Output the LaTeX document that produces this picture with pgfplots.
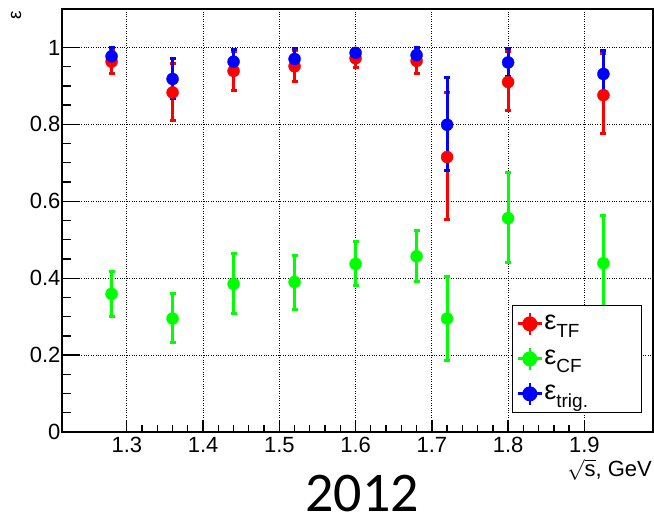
\documentclass[border=0pt]{standalone}
\usepackage{fontspec}
\setmainfont{Liberation Sans}
\newfontfamily\titlefont{Carlito}
\usepackage{pgfplots}
\usepackage{pgfplotstable}
\pgfplotsset{compat=1.18}

\definecolor{rred}{RGB}{255,0,0}
\definecolor{rgreen}{RGB}{0,255,0}
\definecolor{rblue}{RGB}{0,0,255}

% x  eff  err+  err-
\pgfplotstableread{
x     y      ep     em
1.28  0.963  0.030  0.031
1.36  0.883  0.075  0.072
1.44  0.939  0.050  0.051
1.52  0.951  0.040  0.040
1.60  0.972  0.025  0.024
1.68  0.965  0.027  0.032
1.72  0.715  0.169  0.163
1.80  0.910  0.079  0.074
1.925 0.876  0.108  0.101
}\effTF
\pgfplotstableread{
x     y      ep     em
1.28  0.359  0.058  0.058
1.36  0.295  0.065  0.063
1.44  0.385  0.079  0.076
1.52  0.390  0.069  0.071
1.60  0.437  0.058  0.057
1.68  0.457  0.066  0.066
1.72  0.295  0.110  0.108
1.80  0.556  0.118  0.114
1.925 0.439  0.124  0.125
}\effCF
\pgfplotstableread{
x     y      ep     em
1.28  0.977  0.023  0.022
1.36  0.918  0.052  0.052
1.44  0.963  0.032  0.031
1.52  0.970  0.027  0.025
1.60  0.986  0.010  0.010
1.68  0.980  0.020  0.020
1.72  0.799  0.123  0.119
1.80  0.961  0.036  0.036
1.925 0.931  0.062  0.060
}\effTrig

\newcommand{\eps}[1]{\fontsize{27}{27}\selectfont ε\raisebox{-8pt}{\fontsize{19}{19}\selectfont #1}}

\pgfplotsset{
  rootpts/.style={only marks, mark=*, mark size=6pt, color=#1, line width=3pt,
    mark options={line width=0.4pt, solid},
    error bars/.cd, y dir=both, y explicit,
    error bar style={line width=3pt, color=#1},
    error mark options={rotate=90, mark size=3pt, line width=3pt, color=#1}},
}

\begin{document}
\begin{tikzpicture}
\useasboundingbox (-62pt,-84pt) rectangle (592pt,432pt);
\begin{axis}[
  scale only axis,
  width=591pt, height=423pt,
  xmin=1.215, xmax=1.99,
  ymin=0, ymax=1.1,
  xtick={1.3,1.4,1.5,1.6,1.7,1.8,1.9},
  ytick={0,0.2,0.4,0.6,0.8,1},
  minor x tick num=4,
  minor y tick num=3,
  tick pos=left,
  tick align=inside,
  major tick length=18pt,
  minor tick length=9pt,
  xtick style={/pgfplots/major tick length=12pt,/pgfplots/minor tick length=7pt},
  tick style={line width=1.3pt, black},
  axis line style={line width=1.5pt},
  grid=major,
  major grid style={dotted, black, line width=0.9pt},
  /pgf/number format/assume math mode=true,
  tick label style={font=\fontsize{22}{22}\selectfont},
  xticklabel style={yshift=-2pt},
  yticklabel style={xshift=2pt},
  legend style={at={(0.761,0.045)}, anchor=south west, draw=black, line width=1.2pt,
    fill=white, inner xsep=4pt, inner ysep=1pt, row sep=0pt,
    nodes={inner sep=1pt, text height=22pt, text depth=11pt, text width=92pt}},
  legend cell align=left,
  legend image code/.code={
    \path (0pt,0pt) -- (24pt,0pt);
    \draw[line width=2.5pt] (12pt,-11pt) -- (12pt,11pt);
    \fill (12pt,0pt) circle (6pt);
  },
]
\addplot[rootpts=rred]
  table[x=x, y=y, y error plus=ep, y error minus=em] {\effTF};
\addlegendentry{\eps{TF}}
\addplot[rootpts=rgreen]
  table[x=x, y=y, y error plus=ep, y error minus=em] {\effCF};
\addlegendentry{\eps{CF}}
\addplot[rootpts=rblue]
  table[x=x, y=y, y error plus=ep, y error minus=em] {\effTrig};
\addlegendentry{\eps{trig.}}
\end{axis}
\node[rotate=90, font=\fontsize{19}{19}\selectfont] at (-46pt,417pt) {ε};
\node[anchor=east, font=\fontsize{22}{22}\selectfont, inner sep=0pt] at (590pt,-38pt) {$\sqrt{\mbox{s}}$, GeV};
\node[anchor=base, font=\titlefont\fontsize{56}{56}\selectfont, inner sep=0pt] at (300pt,-80pt) {2012};
\end{tikzpicture}
\end{document}
